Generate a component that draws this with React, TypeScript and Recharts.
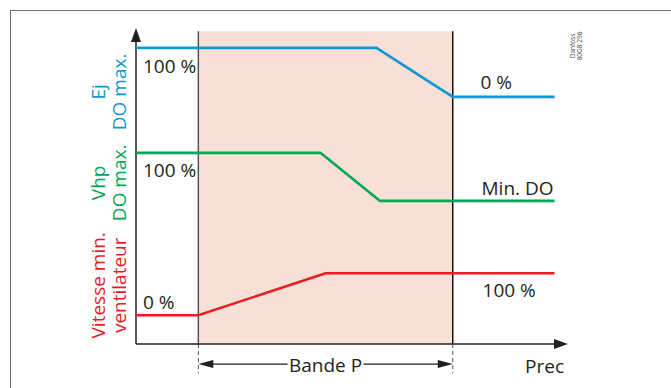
import { LineChart, Line, XAxis, YAxis, ReferenceArea, ReferenceLine, ReferenceDot } from 'recharts';

// schematic units: x = % of the P band (0..100), y = shared level scale (x-axis at 0)
const X_DOMAIN: [number, number] = [-24.5, 145.3];
const Y_DOMAIN: [number, number] = [-13.9, 100];
const X_MIN = X_DOMAIN[0];
const X_MAX = X_DOMAIN[1];

const bandP = { from: 0, to: 100, top: 99 };

const ejLine = [
  { x: X_MIN, y: 93.7 },
  { x: 70, y: 93.7 },
  { x: 100, y: 78.2 },
  { x: 140, y: 78.2 },
];
const vhpLine = [
  { x: X_MIN, y: 60.5 },
  { x: 48, y: 60.5 },
  { x: 71.4, y: 45.3 },
  { x: 140, y: 45.3 },
];
const fanLine = [
  { x: X_MIN, y: 9.1 },
  { x: 0, y: 9.1 },
  { x: 50, y: 22.4 },
  { x: 140, y: 22.4 },
];

const ejTitle = ['Ej', 'DO max.'];
const vhpTitle = ['Vhp', 'DO max.'];
const fanTitle = ['Vitesse min.', 'ventilateur'];
const ejLabels = ['100 %', '0 %'];
const vhpLabels = ['100 %', 'Min. DO'];
const fanLabels = ['0 %', '100 %'];
const xTitle = 'Prec';
const bandTitle = 'Bande P';

const BLUE = '#1296d4';
const GREEN = '#00a651';
const RED = '#ed1c24';
const INK = '#231f20';
const BAND = '#f7e1d6';
const FONT = '"Open Sans", sans-serif';

const bandArrowY = -6.33;
const tickBottom = -9.2;

function note(
  key: string,
  x: number,
  y: number,
  dx: number,
  dy: number,
  text: string,
  anchor: 'start' | 'middle' | 'end' = 'start',
  fill = INK,
) {
  return (
    <ReferenceDot
      key={key}
      x={x}
      y={y}
      r={0}
      ifOverflow="visible"
      shape={(p: any) => (
        <text x={p.cx + dx} y={p.cy + dy} textAnchor={anchor} fill={fill} fontSize={19} fontFamily={FONT}>
          {text}
        </text>
      )}
    />
  );
}

function title(key: string, y: number, dy: number, lines: string[], fill: string) {
  return (
    <ReferenceDot
      key={key}
      x={X_MIN}
      y={y}
      r={0}
      ifOverflow="visible"
      shape={(p: any) => {
        const cy = p.cy + dy;
        return (
          <g>
            {lines.map((t, i) => {
              const tx = p.cx - 31 + i * 21;
              return (
                <text
                  key={t}
                  x={tx}
                  y={cy}
                  transform={`rotate(-90 ${tx} ${cy})`}
                  textAnchor="middle"
                  fill={fill}
                  fontSize={19}
                  fontFamily={FONT}
                >
                  {t}
                </text>
              );
            })}
          </g>
        );
      }}
    />
  );
}

function arrow(key: string, x: number, y: number, dir: 'up' | 'left' | 'right', len: number, half: number) {
  return (
    <ReferenceDot
      key={key}
      x={x}
      y={y}
      r={0}
      ifOverflow="visible"
      shape={(p: any) => {
        const { cx, cy } = p;
        let d = '';
        if (dir === 'up') d = `M${cx},${cy} L${cx - half},${cy + len} L${cx + half},${cy + len} Z`;
        if (dir === 'right') d = `M${cx},${cy} L${cx - len},${cy - half} L${cx - len},${cy + half} Z`;
        if (dir === 'left') d = `M${cx},${cy} L${cx + len},${cy - half} L${cx + len},${cy + half} Z`;
        return <path d={d} fill={INK} />;
      }}
    />
  );
}

export default function App() {
  return (
    <div style={{ position: 'fixed', left: 0, top: 0, width: 671, height: 388, overflow: 'hidden', background: '#fff' }}>
      <div
        style={{
          position: 'absolute',
          left: 10,
          top: 10,
          width: 700,
          height: 420,
          border: '1.5px solid #6d6e71',
        }}
      />
      <svg width={671} height={388} style={{ position: 'absolute', left: 0, top: 0 }}>
        {['Danfoss', '80G8 296'].map((t, i) => {
          const tx = 575 + i * 6.5;
          return (
            <text
              key={t}
              x={tx}
              y={46}
              transform={`rotate(-90 ${tx} 46)`}
              textAnchor="middle"
              fontSize={6.5}
              fill="#444"
              fontFamily={FONT}
            >
              {t}
            </text>
          );
        })}
      </svg>
      <div style={{ position: 'absolute', left: 0, top: 0 }}>
        <LineChart width={671} height={388} margin={{ top: 28, right: 103, bottom: 0, left: 136 }}>
          <XAxis type="number" dataKey="x" domain={X_DOMAIN} allowDataOverflow hide />
          <YAxis type="number" dataKey="y" domain={Y_DOMAIN} allowDataOverflow hide />

          <ReferenceArea
            x1={bandP.from}
            x2={bandP.to}
            y1={0}
            y2={bandP.top}
            fill={BAND}
            fillOpacity={1}
            stroke="none"
            ifOverflow="visible"
          />
          <ReferenceLine
            segment={[{ x: bandP.from, y: 0 }, { x: bandP.from, y: bandP.top }]}
            stroke="#555"
            strokeWidth={1.5}
            ifOverflow="visible"
          />
          <ReferenceLine
            segment={[{ x: bandP.to, y: 0 }, { x: bandP.to, y: bandP.top }]}
            stroke="#111"
            strokeWidth={1.5}
            ifOverflow="visible"
          />
          <ReferenceLine
            segment={[{ x: bandP.from, y: 0 }, { x: bandP.from, y: tickBottom }]}
            stroke="#555"
            strokeWidth={1}
            strokeDasharray="4 3"
            ifOverflow="visible"
          />
          <ReferenceLine
            segment={[{ x: bandP.to, y: 0 }, { x: bandP.to, y: tickBottom }]}
            stroke="#555"
            strokeWidth={1}
            strokeDasharray="4 3"
            ifOverflow="visible"
          />

          {/* axes */}
          <ReferenceLine
            segment={[{ x: X_MIN, y: 0 }, { x: X_MIN, y: 97 }]}
            stroke={INK}
            strokeWidth={1.5}
            ifOverflow="visible"
          />
          <ReferenceLine
            segment={[{ x: X_MIN, y: 0 }, { x: X_MAX - 4, y: 0 }]}
            stroke={INK}
            strokeWidth={1.5}
            ifOverflow="visible"
          />
          {arrow('ya', X_MIN, 100, 'up', 14, 5)}
          {arrow('xa', X_MAX, 0, 'right', 14, 5)}

          {/* P band dimension */}
          <ReferenceLine
            segment={[{ x: bandP.from + 3, y: bandArrowY }, { x: bandP.to - 3, y: bandArrowY }]}
            stroke={INK}
            strokeWidth={1.2}
            ifOverflow="visible"
          />
          {arrow('bl', bandP.from, bandArrowY, 'left', 15, 4)}
          {arrow('br', bandP.to, bandArrowY, 'right', 15, 4)}
          <ReferenceDot
            x={(bandP.from + bandP.to) / 2}
            y={0}
            r={0}
            ifOverflow="visible"
            shape={(p: any) => (
              <g>
                <rect x={p.cx - 38} y={p.cy + 12} width={76} height={20} fill="#fff" />
                <text x={p.cx} y={p.cy + 28} textAnchor="middle" fill={INK} fontSize={19} fontFamily={FONT}>
                  {bandTitle}
                </text>
              </g>
            )}
          />
          {note('xt', X_MAX, 0, -4, 29, xTitle, 'end')}

          <Line data={ejLine} dataKey="y" type="linear" stroke={BLUE} strokeWidth={2.6} dot={false} isAnimationActive={false} />
          <Line data={vhpLine} dataKey="y" type="linear" stroke={GREEN} strokeWidth={2.6} dot={false} isAnimationActive={false} />
          <Line data={fanLine} dataKey="y" type="linear" stroke={RED} strokeWidth={2.6} dot={false} isAnimationActive={false} />

          {note('e0', X_MIN, ejLine[0].y, 7, 25, ejLabels[0])}
          {note('e1', ejLine[3].x, ejLine[3].y, -74, -8, ejLabels[1])}
          {note('v0', X_MIN, vhpLine[0].y, 7, 24, vhpLabels[0])}
          {note('v1', vhpLine[3].x, vhpLine[3].y, -73, -6, vhpLabels[1])}
          {note('f0', X_MIN, fanLine[0].y, 7, -6, fanLabels[0])}
          {note('f1', fanLine[3].x, fanLine[3].y, -72, 24, fanLabels[1])}

          {title('te', ejLine[0].y, 44, ejTitle, BLUE)}
          {title('tv', vhpLine[0].y, 30, vhpTitle, GREEN)}
          {title('tf', fanLine[0].y, -30, fanTitle, RED)}
        </LineChart>
      </div>
    </div>
  );
}
